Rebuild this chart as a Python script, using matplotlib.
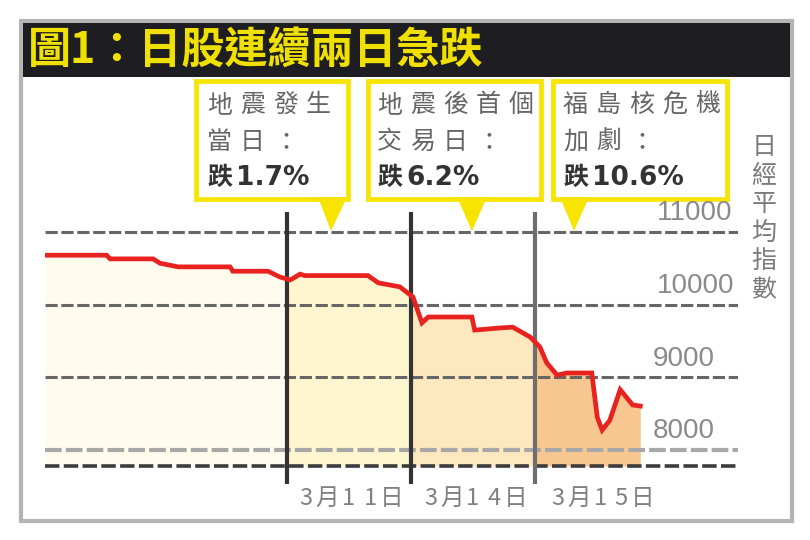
import numpy as np
import matplotlib
matplotlib.use('Agg')
import matplotlib.pyplot as plt
from matplotlib.patches import Rectangle, Polygon

plt.rcParams['font.family'] = ['Noto Sans CJK TC', 'DejaVu Sans']

# Nikkei 225, 9 Mar to 15 Mar 2011 (time axis is an arbitrary 0-100 scale)
t = [0, 8.9, 9.4, 15.6, 16.6, 19.2, 26.7, 27.1, 32.2, 33.9, 35.4, 36.8,
     37.5, 46.6, 48.1, 51.2, 53.1, 54.4, 55.3, 61.6, 62.0, 65.7, 67.5,
     70.0, 71.4, 72.4, 73.9, 75.3, 78.9, 79.7, 80.4, 81.5, 83.0, 84.2,
     84.8, 85.9]
nikkei = [10680, 10680, 10630, 10630, 10570, 10520, 10520, 10460, 10460,
          10380, 10340, 10420, 10400, 10400, 10300, 10245, 10105, 9750,
          9830, 9830, 9650, 9680, 9690, 9555, 9420, 9200, 9030, 9060,
          9060, 8450, 8275, 8410, 8830, 8690, 8620, 8605]

grid_levels = [11000, 10000, 9000, 8000]
grid_labels = ['11000', '10000', '9000', '8000']
baseline = 7780

# day boundaries: start of 11, 14, 15 Mar and end of the chart
day_edges = [34.9, 52.8, 70.7, 89.5]
day_labels = ['3月11日', '3月14日', '3月15日']
region_edges = [0, 34.9, 52.8, 70.7, 85.9]
region_colors = ['#fffcee', '#fff6cf', '#fde8c0', '#f8c690']
vline_colors = ['#333333', '#333333', '#6e6e6e']

title = '圖1：日股連續兩日急跌'
box_lines = [('地震發生', '當日：', '1.7%'),
             ('地震後首個', '交易日：', '6.2%'),
             ('福島核危機', '加劇：', '10.6%')]
y_title = '日經平均指數'

fig = plt.figure(figsize=(8.1, 5.4), dpi=100)

# decoration layer in pixel coordinates
deco = fig.add_axes([0, 0, 1, 1])
deco.set_xlim(0, 810)
deco.set_ylim(540, 0)
deco.axis('off')

deco.add_patch(Rectangle((20.5, 20.5), 771.5, 500, fill=False,
                         edgecolor='#b4b4b4', lw=3))
deco.add_patch(Rectangle((23, 23), 767, 54, color='#1d1d22', lw=0))
deco.text(28, 50, title, color='#f0e000', fontsize=31, fontweight='bold',
          va='center', ha='left')

YELLOW = '#f7e400'
box_x = [(193, 350), (365, 543), (550, 729)]
tri_x = [(318, 347, 331), (457, 487, 472), (560, 589, 574)]
text_x = [207, 377, 563]
pitch = 33
for (x0, x1), (a, b, tip), tx, lines in zip(box_x, tri_x, text_x, box_lines):
    deco.add_patch(Rectangle((x0 + 2.5, 80.5), x1 - x0 - 5, 118,
                             facecolor='white', edgecolor=YELLOW, lw=3.4,
                             zorder=3))
    deco.add_patch(Polygon([(a, 197), (b, 197), (tip, 231)], closed=True,
                           color=YELLOW, lw=0, zorder=3))
    for s, y in zip(lines[:2], [105, 142]):
        for i, ch in enumerate(s):
            deco.text(tx + i * pitch, y, ch, fontsize=18, color='#666666',
                      fontweight='medium', va='center', ha='left', zorder=4)
    deco.text(tx, 178, '跌', fontsize=18, fontweight='bold', color='#333333',
              va='center', ha='left', zorder=4)
    deco.text(tx + 29, 178, lines[2], fontsize=19, fontweight='bold',
              family='DejaVu Sans', color='#333333', va='center', ha='left',
              zorder=4)

for i, ch in enumerate(y_title):
    deco.text(764, 147 + i * 28.6, ch, fontsize=18, color='#7a7a7a',
              va='center', ha='center')

# chart layer
ax = fig.add_axes([45 / 810, 50 / 540, 693 / 810, 290 / 540])
ax.set_xlim(0, 100)
ax.set_ylim(7450, 11440)
ax.axis('off')

for (r0, r1), c in zip(zip(region_edges[:-1], region_edges[1:]), region_colors):
    poly = ax.fill_between(t, nikkei, baseline, color=c, lw=0, zorder=1)
    poly.set_clip_path(Rectangle((r0, 7000), r1 - r0, 5000,
                                 transform=ax.transData))

for lvl in grid_levels[:3]:
    ax.axhline(lvl, color='#666666', lw=2.2, ls=(0, (4, 1.2)), zorder=2)
ax.axhline(grid_levels[3], color='#a8a8a8', lw=3, ls=(0, (4, 1)), zorder=2)
ax.axhline(baseline, color='#3c3c3c', lw=2.6, ls=(0, (4, 1.2)), zorder=2)

for lvl, lab in zip(grid_levels, grid_labels):
    xl = 88.3 if len(lab) == 5 else 87.7
    ax.annotate(lab, xy=(xl, lvl), xytext=(0, 13.5), textcoords='offset points',
                fontsize=20, family='Liberation Sans', color='#8a8a8a',
                va='center', ha='left', annotation_clip=False)

ax.vlines(day_edges[:3], 7530, 11275, colors=vline_colors, lw=3, zorder=3)

ax.plot(t, nikkei, color='#e8231f', lw=3.4, zorder=4, solid_joinstyle='miter')

for d0, d1, lab in zip(day_edges[:-1], day_edges[1:], day_labels):
    n = len(lab)
    for i, ch in enumerate(lab):
        ax.annotate(ch, xy=((d0 + d1) / 2, 7450),
                    xytext=((i - (n - 1) / 2) * 15.3, -6),
                    textcoords='offset points', fontsize=17, color='#808080',
                    va='center', ha='center', annotation_clip=False)

fig.savefig('out.png', dpi=100)
